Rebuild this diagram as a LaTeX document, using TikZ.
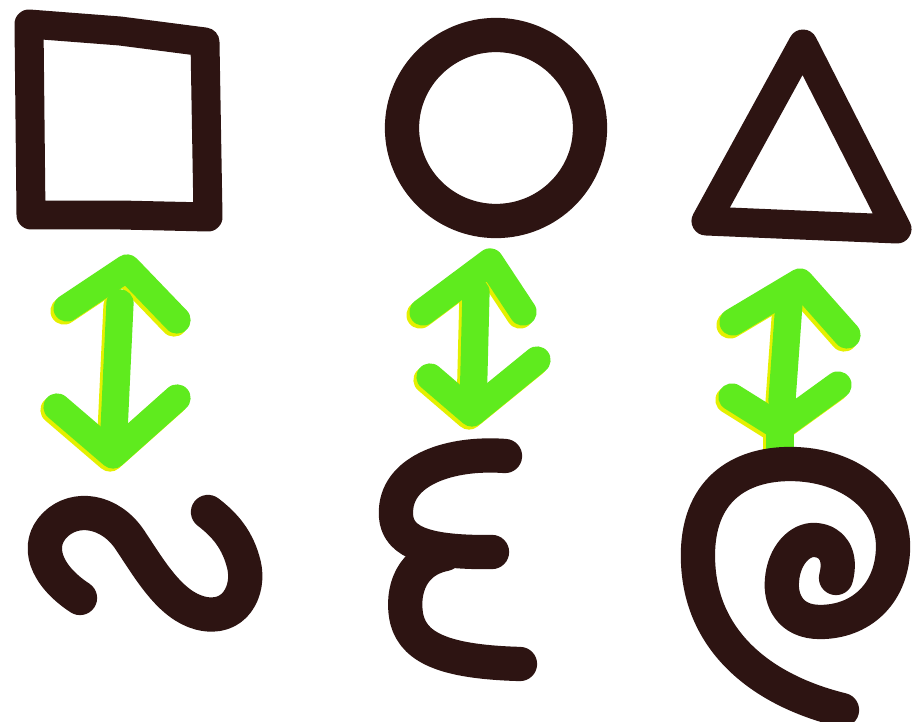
\documentclass[tikz,border=0pt]{standalone}
\definecolor{brn}{RGB}{45,20,18}
\definecolor{grn}{RGB}{95,235,30}
\definecolor{yel}{RGB}{228,240,0}
\tikzset{
  ink/.style={draw=brn, line width=16.5pt, line cap=round, line join=round},
  thickink/.style={ink, line width=19.5pt},
  marker/.style={draw=grn, line width=15.5pt, line cap=round, line join=round},
  halo/.style={draw=yel, line width=15.5pt, line cap=round, line join=round, shift={(-3,3)}}
}
\newcommand\arrowone[1]{%
  \draw[#1] (120,303) -- (113,452);
  \draw[#1] (67,308) -- (127,268) -- (177,320);
  \draw[#1] (57,407) -- (113,455) -- (177,398);}
\newcommand\arrowtwo[1]{%
  \draw[#1] (476,292) -- (473,410);
  \draw[#1] (423,312) -- (490,262) -- (523,312);
  \draw[#1] (430,377) -- (472,413) -- (537,360);}
\newcommand\arrowthree[1]{%
  \draw[#1] (789,303) -- (782,400);
  \draw[#1] (733,322) -- (800,282) -- (847,335);
  \draw[#1] (732,397) -- (780,427) -- (838,385);
  \draw[#1] (780,427) -- (780,446);}
\begin{document}
\begin{tikzpicture}[x=0.02cm,y=-0.02cm]
\useasboundingbox[fill=white] (0,0) rectangle (916,722);
% top row
\draw[ink] (29,24) -- (120,31) -- (205,42) -- (208,217) -- (120,215) -- (31,215) -- cycle;
\draw[thickink] (496,128) ellipse [x radius=94, y radius=93];
\draw[ink] (803,44) -- (897,229) -- (800,225) -- (706,221) -- cycle;
% arrows
\arrowone{halo}\arrowone{marker}
\arrowtwo{halo}\arrowtwo{marker}
\arrowthree{halo}\arrowthree{marker}
% bottom row
\draw[thickink] (80,598) .. controls (45,575) and (35,545) .. (55,525)
  .. controls (75,505) and (110,510) .. (130,540)
  .. controls (150,570) and (170,605) .. (200,613)
  .. controls (235,622) and (250,590) .. (244,565)
  .. controls (238,540) and (225,525) .. (208,512);
\draw[thickink] (505,456) .. controls (450,452) and (398,470) .. (396,510)
  .. controls (394,540) and (420,553) .. (492,552);
\draw[thickink] (445,554) .. controls (405,562) and (402,600) .. (407,620)
  .. controls (415,650) and (450,662) .. (520,664);
\draw[thickink] (842,710) .. controls (760,690) and (700,640) .. (698,560)
  .. controls (696,490) and (740,464) .. (790,464)
  .. controls (850,464) and (895,500) .. (893,550)
  .. controls (891,595) and (860,622) .. (820,622)
  .. controls (790,622) and (780,600) .. (782,580)
  .. controls (784,555) and (800,539) .. (815,540)
  .. controls (832,541) and (842,555) .. (836,578);
\end{tikzpicture}
\end{document}
